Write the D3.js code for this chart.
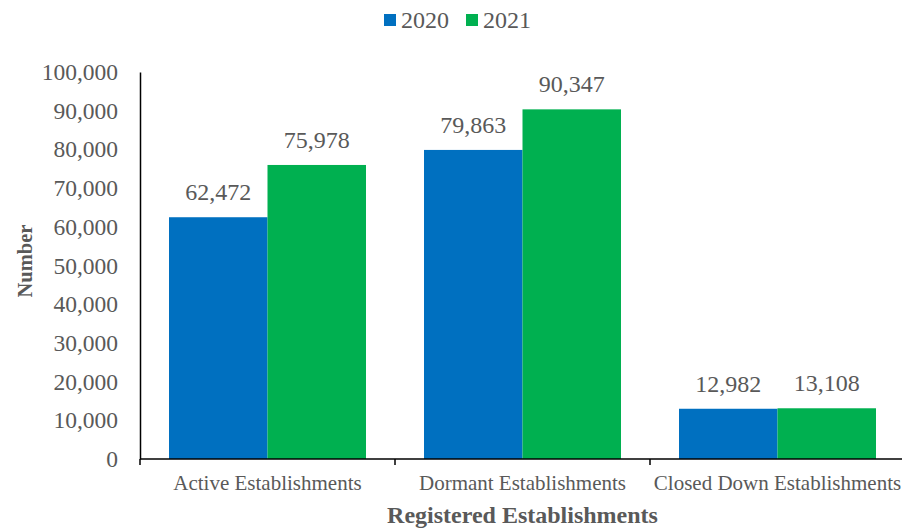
<!DOCTYPE html>
<html>
<head>
<meta charset="utf-8">
<script src="https://cdn.jsdelivr.net/npm/d3@7"></script>
<style>
  html, body { margin: 0; padding: 0; background: #fff; }
  svg { display: block; }
  text { font-family: "Liberation Serif", "Times New Roman", serif; fill: #595959; }
</style>
</head>
<body>
<svg id="chart" width="902" height="532"></svg>
<script>
// Registered establishments by status, 2020 vs 2021
const categories = ["Active Establishments", "Dormant Establishments", "Closed Down Establishments"];
const years = ["2020", "2021"];
const values2020 = [62472, 79863, 12982];
const values2021 = [75978, 90347, 13108];
const yTicks = [0, 10000, 20000, 30000, 40000, 50000, 60000, 70000, 80000, 90000, 100000];
const colors = ["#0070C0", "#00B050"];

const series = [values2020, values2021];
const rows = categories.map((c, i) => ({
  category: c,
  bars: years.map((y, j) => ({ year: y, value: series[j][i], color: colors[j] }))
}));

const svg = d3.select("#chart");
const plot = { left: 140, right: 905, top: 72, bottom: 459 };
const serif = "'Liberation Serif', 'Times New Roman', serif";

const x0 = d3.scaleBand()
  .domain(categories)
  .range([plot.left, plot.right])
  .paddingInner(0.2275)
  .paddingOuter(0.11375);

const x1 = d3.scaleBand()
  .domain(years)
  .range([0, x0.bandwidth()]);

const y = d3.scaleLinear()
  .domain([0, 100000])
  .range([plot.bottom, plot.top]);

const fmt = d3.format(",");

// Bars
const groups = svg.append("g").selectAll("g")
  .data(rows)
  .join("g")
  .attr("transform", d => `translate(${x0(d.category)},0)`);

groups.selectAll("rect")
  .data(d => d.bars)
  .join("rect")
  .attr("x", d => x1(d.year))
  .attr("y", d => y(d.value))
  .attr("width", x1.bandwidth())
  .attr("height", d => y(0) - y(d.value))
  .attr("fill", d => d.color);

// Value labels
groups.selectAll("text.value")
  .data(d => d.bars)
  .join("text")
  .attr("class", "value")
  .attr("x", d => x1(d.year) + x1.bandwidth() / 2)
  .attr("y", d => y(d.value) - 17)
  .attr("text-anchor", "middle")
  .style("font-size", "24px")
  .text(d => fmt(d.value));

// Y axis
const yAxis = svg.append("g")
  .attr("transform", `translate(${plot.left},0)`)
  .call(d3.axisLeft(y).tickValues(yTicks).tickFormat(fmt).tickSize(0).tickPadding(22));
yAxis.attr("font-family", serif).attr("font-size", null);
yAxis.select(".domain").attr("stroke", "#000").attr("stroke-width", 1.5);
yAxis.selectAll("text")
  .style("font-size", "23.5px")
  .style("font-family", serif)
  .attr("fill", "#595959");

// X axis with boundary ticks between categories
const xAxis = svg.append("g").attr("transform", `translate(0,${plot.bottom})`);
xAxis.append("line")
  .attr("x1", plot.left).attr("x2", plot.right)
  .attr("stroke", "#000").attr("stroke-width", 1.5);
const boundaries = categories.map(c => x0(c) - x0.step() * x0.paddingOuter());
xAxis.selectAll("line.tick")
  .data(boundaries)
  .join("line")
  .attr("class", "tick")
  .attr("x1", d => d).attr("x2", d => d)
  .attr("y1", 0).attr("y2", 6)
  .attr("stroke", "#000").attr("stroke-width", 1.5);
xAxis.selectAll("text")
  .data(categories)
  .join("text")
  .attr("x", d => x0(d) + x0.bandwidth() / 2)
  .attr("y", 31)
  .attr("text-anchor", "middle")
  .style("font-size", "21px")
  .text(d => d);

// Axis titles
svg.append("text")
  .attr("transform", `translate(32,261) rotate(-90)`)
  .attr("text-anchor", "middle")
  .style("font-size", "20.5px")
  .style("font-weight", "bold")
  .text("Number");

svg.append("text")
  .attr("x", (plot.left + plot.right) / 2)
  .attr("y", 523)
  .attr("text-anchor", "middle")
  .style("font-size", "24px")
  .style("font-weight", "bold")
  .text("Registered Establishments");

// Legend
const legendX = [384, 466];
const legend = svg.append("g").selectAll("g")
  .data(years)
  .join("g")
  .attr("transform", (d, i) => `translate(${legendX[i]},14)`);
legend.append("rect")
  .attr("width", 12).attr("height", 12)
  .attr("fill", (d, i) => colors[i]);
legend.append("text")
  .attr("x", 17).attr("y", 14)
  .style("font-size", "24px")
  .text(d => d);
</script>
</body>
</html>
